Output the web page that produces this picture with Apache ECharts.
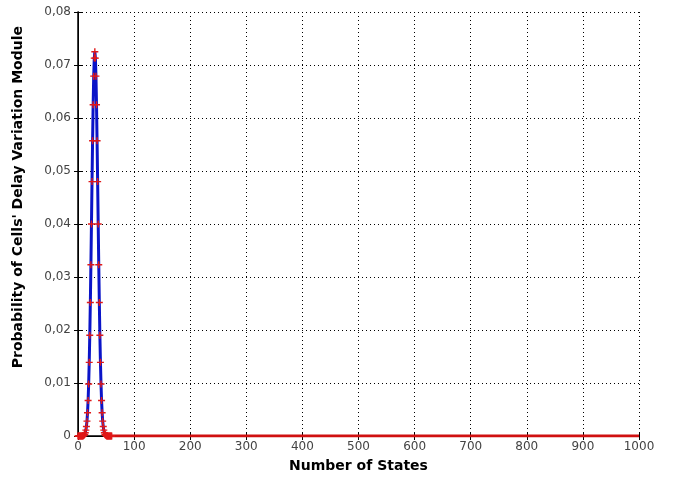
<!DOCTYPE html>
<html>
<head>
<meta charset="utf-8">
<style>
html, body { margin: 0; padding: 0; background: #fff; }
#main { width: 674px; height: 478px; }
</style>
<script src="https://cdn.jsdelivr.net/npm/echarts@6/dist/echarts.min.js"></script>
</head>
<body>
<div id="main"></div>
<script>
// peak region, states 0..60
var peakStates = [];
for (var i = 0; i <= 60; i++) peakStates.push(i);
var peakValues = [
  0, 0, 0, 0, 0, 0, 0, 0, 0, 0,
  0.0001, 0.0002, 0.0003, 0.0006, 0.0011, 0.0018, 0.0028, 0.0044, 0.0067, 0.0098,
  0.0139, 0.0190, 0.0252, 0.0323, 0.0400, 0.0480, 0.0557, 0.0625, 0.0679, 0.0713,
  0.0725, 0.0713, 0.0679, 0.0625, 0.0557, 0.0480, 0.0400, 0.0323, 0.0252, 0.0190,
  0.0139, 0.0098, 0.0067, 0.0044, 0.0028, 0.0018, 0.0011, 0.0006, 0.0003, 0.0002,
  0.0001, 0, 0, 0, 0, 0, 0, 0, 0, 0, 0
];
// flat tail to the end of the axis
var tailStates = [60, 1000];
var tailValues = [0, 0];
var yTicks = ['0', '0,01', '0,02', '0,03', '0,04', '0,05', '0,06', '0,07', '0,08'];

var chart = echarts.init(document.getElementById('main'));
var font = 'DejaVu Sans, Verdana, sans-serif';
var gridLine = { show: true, lineStyle: { color: '#000', type: [1, 3], width: 1 } };

chart.setOption({
  animation: false,
  grid: { left: 78, right: 35, top: 12, bottom: 42 },
  graphic: [{
    type: 'text', left: 11, top: 26, rotation: Math.PI / 2,
    style: {
      text: "Probability of Cells' Delay Variation Module",
      font: 'bold 14px "DejaVu Sans", sans-serif', fill: '#000'
    }
  }],
  xAxis: [{
    type: 'value', min: 0, max: 1000, interval: 100,
    name: 'Number of States', nameLocation: 'middle', nameGap: 23,
    nameTextStyle: { fontFamily: font, fontWeight: 'bold', fontSize: 14, color: '#000' },
    axisLine: { lineStyle: { color: '#000', width: 1 } },
    axisTick: { inside: true, length: 4, lineStyle: { color: '#000' } },
    axisLabel: { fontFamily: font, fontSize: 12, color: '#444', margin: 5, formatter: function (v) { return String(v); } },
    splitLine: gridLine
  }, {
    type: 'value', min: 0, max: 1000, interval: 100, position: 'top',
    axisLine: { show: true, lineStyle: { color: '#000', width: 1.5 } },
    axisTick: { inside: true, length: 4, lineStyle: { color: '#000' } },
    axisLabel: { show: false }, splitLine: { show: false }
  }],
  yAxis: [{
    type: 'value', min: 0, max: 0.08, interval: 0.01,
    axisLine: { show: true, lineStyle: { color: '#000', width: 1 } },
    axisTick: { inside: true, length: 4, lineStyle: { color: '#000' } },
    axisLabel: {
      fontFamily: font, fontSize: 12, color: '#444', margin: 7,
      formatter: function (v) { return yTicks[Math.round(v * 100)]; }
    },
    splitLine: gridLine
  }, {
    type: 'value', min: 0, max: 0.08, interval: 0.01, position: 'right',
    axisLine: { show: true, lineStyle: { color: '#000', width: 1.5 } },
    axisTick: { inside: true, length: 4, lineStyle: { color: '#000' } },
    axisLabel: { show: false }, splitLine: { show: false }
  }],
  series: [{
    type: 'line',
    data: tailStates.map(function (s, i) { return [s, tailValues[i]]; }),
    showSymbol: false,
    lineStyle: { color: '#d01010', width: 3 },
    z: 3
  }, {
    type: 'line',
    data: peakStates.map(function (s, i) { return [s, peakValues[i]]; }),
    symbol: 'path://M4,0H6V4H10V6H6V10H4V6H0V4H4Z',
    symbolSize: 7,
    itemStyle: { color: '#e01818' },
    lineStyle: { color: '#0a14c8', width: 3 },
    z: 4
  }]
});
</script>
</body>
</html>
